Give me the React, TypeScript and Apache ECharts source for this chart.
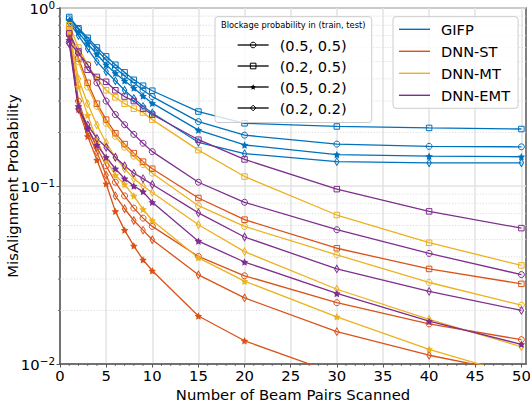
import React, { useEffect, useRef } from 'react';
import * as echarts from 'echarts';

const FONT = 'DejaVu Sans';

// x positions (number of beam pairs scanned)
const beamPairs = [1, 2, 3, 4, 5, 6, 7, 8, 9, 10, 15, 20, 30, 40, 50];

// GIFP
const gifp_05_05 = [0.87, 0.76, 0.66, 0.58, 0.51, 0.46, 0.415, 0.38, 0.345, 0.318, 0.230, 0.193, 0.172, 0.167, 0.166];
const gifp_02_05 = [0.89, 0.77, 0.68, 0.60, 0.535, 0.48, 0.435, 0.395, 0.366, 0.343, 0.262, 0.225, 0.216, 0.212, 0.209];
const gifp_05_02 = [0.85, 0.73, 0.63, 0.55, 0.48, 0.43, 0.39, 0.355, 0.32, 0.292, 0.206, 0.170, 0.150, 0.147, 0.146];
const gifp_02_02 = [0.83, 0.70, 0.59, 0.50, 0.44, 0.39, 0.345, 0.31, 0.28, 0.257, 0.176, 0.152, 0.137, 0.135, 0.135];
// DNN-ST
const st_05_05 = [0.72, 0.30, 0.21, 0.165, 0.13, 0.105, 0.088, 0.0751, 0.066, 0.0593, 0.0402, 0.0313, 0.0221, 0.0168, 0.0137];
const st_02_05 = [0.76, 0.52, 0.38, 0.29, 0.236, 0.198, 0.172, 0.153, 0.137, 0.125, 0.0856, 0.0647, 0.0447, 0.0342, 0.0282];
const st_05_02 = [0.69, 0.27, 0.19, 0.14, 0.103, 0.072, 0.0565, 0.0461, 0.0385, 0.0334, 0.0186, 0.0135, 0.0088, 0.0068, 0.0055];
const st_02_02 = [0.70, 0.28, 0.20, 0.155, 0.115, 0.088, 0.0745, 0.064, 0.0565, 0.0499, 0.0317, 0.0235, 0.0152, 0.0112, 0.0088];
// DNN-MT
const mt_05_05 = [0.77, 0.50, 0.36, 0.28, 0.225, 0.19, 0.165, 0.147, 0.132, 0.118, 0.0775, 0.0593, 0.041, 0.0287, 0.0214];
const mt_02_05 = [0.80, 0.60, 0.48, 0.40, 0.345, 0.315, 0.29, 0.272, 0.259, 0.236, 0.159, 0.113, 0.0687, 0.048, 0.0358];
const mt_05_02 = [0.74, 0.36, 0.25, 0.18, 0.14, 0.115, 0.102, 0.088, 0.074, 0.064, 0.0395, 0.0292, 0.0184, 0.0121, 0.0085];
const mt_02_02 = [0.75, 0.40, 0.29, 0.22, 0.175, 0.145, 0.125, 0.11, 0.10, 0.092, 0.0606, 0.0428, 0.0263, 0.0178, 0.0125];
// DNN-EMT
const emt_05_05 = [0.64, 0.56, 0.48, 0.38, 0.30, 0.252, 0.221, 0.195, 0.174, 0.156, 0.105, 0.081, 0.0568, 0.0418, 0.0318];
const emt_02_05 = [0.72, 0.57, 0.45, 0.41, 0.385, 0.345, 0.318, 0.30, 0.272, 0.252, 0.182, 0.141, 0.096, 0.072, 0.058];
const emt_05_02 = [0.66, 0.28, 0.21, 0.17, 0.145, 0.125, 0.11, 0.10, 0.093, 0.081, 0.049, 0.0374, 0.0249, 0.0174, 0.0129];
const emt_02_02 = [0.63, 0.27, 0.22, 0.185, 0.165, 0.145, 0.13, 0.118, 0.11, 0.102, 0.0706, 0.0517, 0.0342, 0.0256, 0.0200];

const methods = ['GIFP', 'DNN-ST', 'DNN-MT', 'DNN-EMT'];
const methodColors = ['#0072BD', '#D95319', '#EDB120', '#7E2F8E'];
const scenarios = ['(0.5, 0.5)', '(0.2, 0.5)', '(0.5, 0.2)', '(0.2, 0.2)'];
const values = [
  [gifp_05_05, gifp_02_05, gifp_05_02, gifp_02_02],
  [st_05_05, st_02_05, st_05_02, st_02_02],
  [mt_05_05, mt_02_05, mt_05_02, mt_02_02],
  [emt_05_05, emt_02_05, emt_05_02, emt_02_02],
];

const xTicks = [0, 5, 10, 15, 20, 25, 30, 35, 40, 45, 50];
const xMinorTicks = [1, 2, 3, 4, 6, 7, 8, 9, 11, 12, 13, 14, 16, 17, 18, 19, 21, 22, 23, 24, 26, 27, 28, 29, 31, 32, 33, 34, 36, 37, 38, 39, 41, 42, 43, 44, 46, 47, 48, 49];
const yMinorTicks = [0.02, 0.03, 0.04, 0.05, 0.06, 0.07, 0.08, 0.09, 0.2, 0.3, 0.4, 0.5, 0.6, 0.7, 0.8, 0.9];

const STAR = 'path://M0,-10L2.939,-4.045L9.511,-3.09L4.755,1.545L5.878,8.09L0,5L-5.878,8.09L-4.755,1.545L-9.511,-3.09L-2.939,-4.045Z';
const markers = [
  { symbol: 'circle', size: 6, hollow: true },
  { symbol: 'rect', size: 5.5, hollow: true },
  { symbol: STAR, size: 7.5, hollow: false },
  { symbol: 'diamond', size: [4.5, 7.5], hollow: true },
];

function markerStyle(hollow: boolean, color: string) {
  return hollow
    ? { color: 'rgba(0,0,0,0)', borderColor: color, borderWidth: 1 }
    : { color: color, borderColor: color, borderWidth: 0 };
}

export default function App() {
  const ref = useRef<HTMLDivElement>(null);
  useEffect(() => {
    if (!ref.current) return;
    document.body.style.margin = '0';
    const chart = echarts.init(ref.current, null, { renderer: 'svg' });
    const series: any[] = [];

    series.push({
      type: 'custom',
      silent: true,
      z: 1,
      data: yMinorTicks.map((v) => [0, v]),
      renderItem: (params: any, api: any) => {
        const p = api.coord([0, api.value(1)]);
        const cs = params.coordSys;
        return {
          type: 'group',
          children: [
            { type: 'line', shape: { x1: cs.x, y1: p[1], x2: cs.x + cs.width, y2: p[1] }, style: { stroke: '#d6d6d6', lineWidth: 0.8, lineDash: [1.2, 1.6] } },
            { type: 'line', shape: { x1: cs.x - 2, y1: p[1], x2: cs.x, y2: p[1] }, style: { stroke: '#555', lineWidth: 0.8 } },
          ],
        };
      },
    });
    series.push({
      type: 'custom',
      silent: true,
      z: 1,
      data: xMinorTicks.map((v) => [v, 0.01]),
      renderItem: (params: any, api: any) => {
        const p = api.coord([api.value(0), 0.01]);
        const cs = params.coordSys;
        const yb = cs.y + cs.height;
        return { type: 'line', shape: { x1: p[0], y1: yb, x2: p[0], y2: yb + 2 }, style: { stroke: '#555', lineWidth: 0.8 } };
      },
    });

    methods.forEach((m, mi) => {
      scenarios.forEach((s, si) => {
        const mk = markers[si];
        const color = methodColors[mi];
        series.push({
          type: 'line',
          data: beamPairs.map((x, i) => [x, values[mi][si][i]]),
          symbol: mk.symbol,
          symbolSize: mk.size,
          lineStyle: { color, width: 1.3 },
          itemStyle: markerStyle(mk.hollow, color),
          silent: true,
          clip: true,
          z: 2,
          emphasis: { disabled: true },
        });
      });
    });

    scenarios.forEach((s, si) => {
      const mk = markers[si];
      series.push({
        type: 'line',
        name: s,
        data: [],
        symbol: mk.symbol,
        symbolSize: mk.size,
        lineStyle: { color: '#000', width: 1.3 },
        itemStyle: markerStyle(mk.hollow, '#000'),
      });
    });
    methods.forEach((m, mi) => {
      series.push({
        type: 'line',
        name: m,
        data: [],
        symbol: 'none',
        lineStyle: { color: methodColors[mi], width: 1.3 },
        itemStyle: { color: methodColors[mi] },
      });
    });

    const legendText = { fontSize: 14.6, fontFamily: FONT, color: '#000', lineHeight: 16, padding: [0, 0, 0, 6] };

    chart.setOption({
      animation: false,
      tooltip: { show: false },
      title: {
        text: 'Blockage probability in (train, test)',
        left: 221,
        top: 21,
        padding: 0,
        z: 10,
        textStyle: { fontSize: 8.3, fontWeight: 'normal', color: '#000', fontFamily: FONT },
      },
      legend: [
        {
          data: scenarios.map((s, si) => ({
            name: s,
            itemStyle: markers[si].hollow
              ? { color: 'rgba(0,0,0,0)', borderColor: '#000', borderWidth: 1 }
              : { color: '#000', borderColor: '#000', borderWidth: 0 },
            lineStyle: { color: '#000', width: 1.3 },
          })),
          orient: 'vertical',
          left: 215,
          top: 16.7,
          padding: [20.3, 25, 6.5, 22],
          itemWidth: 31,
          itemHeight: 7,
          itemGap: 5,
          z: 5,
          backgroundColor: 'rgba(255,255,255,0.8)',
          borderColor: '#cccccc',
          borderWidth: 1,
          borderRadius: 3,
          selectedMode: false,
          textStyle: legendText,
        },
        {
          data: methods.map((n, mi) => ({ name: n, icon: 'rect', itemStyle: { color: methodColors[mi], borderWidth: 0 } })),
          orient: 'vertical',
          left: 393,
          top: 16.7,
          padding: [4.6, 8, 5, 6],
          itemWidth: 31,
          itemHeight: 1.4,
          itemGap: 6,
          z: 5,
          backgroundColor: 'rgba(255,255,255,0.8)',
          borderColor: '#cccccc',
          borderWidth: 1,
          borderRadius: 3,
          selectedMode: false,
          textStyle: legendText,
        },
      ],
      grid: {
        left: 60,
        top: 8,
        width: 466,
        height: 356,
        show: true,
        borderColor: '#555',
        borderWidth: 1.5,
        containLabel: false,
        outerBoundsMode: 'none',
      },
      xAxis: {
        type: 'value',
        min: 0,
        max: 50.5,
        interval: 5,
        axisLine: { show: true, lineStyle: { color: '#555', width: 1.5 } },
        axisTick: { show: true, length: 3.5, lineStyle: { color: '#555', width: 1 }, customValues: xTicks },
        axisLabel: {
          customValues: xTicks,
          fontSize: 14.8,
          color: '#000',
          fontFamily: FONT,
          margin: 4,
          formatter: (v: number) => (Math.abs(v % 5) < 1e-9 ? String(v) : ''),
        },
        splitLine: { show: true, lineStyle: { color: '#e3e3e3', width: 1.5 } },
        name: 'Number of Beam Pairs Scanned',
        nameLocation: 'middle',
        nameGap: 23,
        nameMoveOverlap: false,
        nameTextStyle: { fontSize: 14.8, color: '#000', fontFamily: FONT },
      },
      yAxis: {
        type: 'log',
        logBase: 10,
        min: 0.01,
        max: 1,
        axisLine: { show: true, lineStyle: { color: '#555', width: 1.5 } },
        axisTick: { show: true, length: 3.5, lineStyle: { color: '#555', width: 1 } },
        splitLine: { show: true, lineStyle: { color: '#e3e3e3', width: 1.5 } },
        axisLabel: {
          margin: 5,
          formatter: (v: number) => {
            const e = Math.round(Math.log10(v));
            const s = e < 0 ? '\u2212' + -e : String(e);
            return '{b|10}{s|' + s + '}';
          },
          rich: {
            b: { fontSize: 14.8, color: '#000', fontFamily: FONT },
            s: { fontSize: 10.4, color: '#000', fontFamily: FONT, padding: [0, 0, 7, 0] },
          },
        },
        name: 'MisAlignment Probability',
        nameLocation: 'middle',
        nameGap: 40,
        nameMoveOverlap: false,
        nameTextStyle: { fontSize: 14.8, color: '#000', fontFamily: FONT },
      },
      series,
    });
    return () => chart.dispose();
  }, []);
  return <div ref={ref} style={{ width: 530, height: 402 }} />;
}
